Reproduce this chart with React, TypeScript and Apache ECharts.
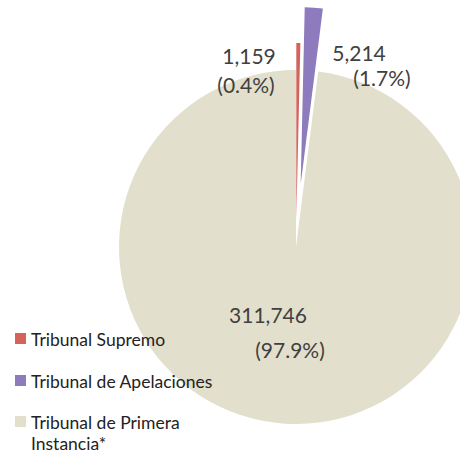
import React, { useEffect, useRef } from "react";
import * as echarts from "echarts";

const categories = ["Tribunal Supremo", "Tribunal de Apelaciones", "Tribunal de Primera Instancia*"];
const legendLabels = ["Tribunal Supremo", "Tribunal de Apelaciones", "Tribunal de Primera\nInstancia*"];
const values = [1159, 5214, 311746];
const percentLabels = ["(0.4%)", "(1.7%)", "(97.9%)"];
const colors = ["#d6625c", "#8e7bbd", "#e2dfcd"];
const explode = [27, 63, 0];

const fmt = (v: number) => v.toLocaleString("en-US");

export default function App() {
  const ref = useRef<HTMLDivElement>(null);
  useEffect(() => {
    if (!ref.current) return;
    const chart = echarts.init(ref.current, undefined, { renderer: "svg" });
    const center = [296, 247];
    const radius = 177;
    const font = "Lato, 'Open Sans', sans-serif";

    const series = categories.map((_, i) => ({
      type: "pie",
      center,
      radius,
      startAngle: 90,
      clockwise: true,
      silent: true,
      selectedMode: "multiple",
      selectedOffset: explode[i],
      emphasis: { disabled: true },
      label: { show: false },
      labelLine: { show: false },
      data: values.map((v, j) => ({
        value: v,
        name: categories[j],
        selected: j === i && explode[i] > 0,
        itemStyle: { color: j === i ? colors[j] : "rgba(0,0,0,0)", borderWidth: 0 },
        select: { itemStyle: { color: j === i ? colors[j] : "rgba(0,0,0,0)" } },
      })),
    }));

    // value labels
    const labelPos = [
      [[249, 55], [246, 84]],
      [[359, 52], [382, 77]],
      [[268, 314], [290, 349]],
    ];
    const labelTexts: any[] = [];
    values.forEach((v, i) => {
      const lines = [fmt(v), percentLabels[i]];
      lines.forEach((t, k) => {
        labelTexts.push({
          type: "text",
          x: labelPos[i][k][0],
          y: labelPos[i][k][1],
          z: 100,
          style: {
            text: t,
            align: "center",
            verticalAlign: "middle",
            font: `21px ${font}`,
            fill: "#404040",
          },
        });
      });
    });

    // legend
    const legendY = [339, 381, 422];
    const legendEls: any[] = [];
    legendLabels.forEach((name, i) => {
      legendEls.push({
        type: "rect",
        shape: { x: 15, y: legendY[i] - 6, width: 11, height: 11 },
        style: { fill: colors[i] },
        z: 100,
      });
      legendEls.push({
        type: "text",
        x: 31,
        y: legendY[i] - 10,
        z: 100,
        style: {
          text: name,
          font: `17.5px ${font}`,
          lineHeight: 21,
          fill: "#222222",
          verticalAlign: "top",
          align: "left",
        },
      });
    });

    chart.setOption({
      animation: false,
      backgroundColor: "#ffffff",
      series,
      graphic: [...labelTexts, ...legendEls],
    });
    return () => chart.dispose();
  }, []);
  return <div ref={ref} style={{ width: 460, height: 456, position: "absolute", left: 0, top: 0 }} />;
}
